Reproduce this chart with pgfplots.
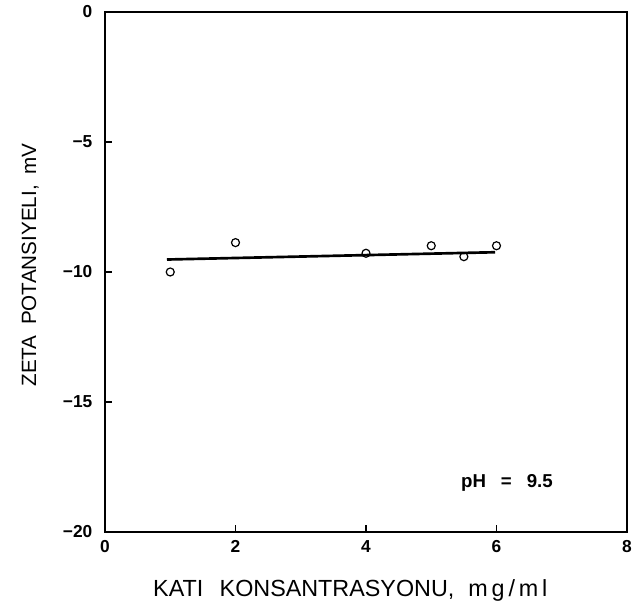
\documentclass[border=0pt]{standalone}
\usepackage{pgfplots}
\pgfplotsset{compat=1.18}
\usepackage{fontspec}
\setmainfont{Liberation Sans}
\begin{document}
\begin{tikzpicture}[x=1pt,y=1pt]
\begin{axis}[
  name=ax,
  scale only axis,
  width=391.5pt, height=390pt,
  xmin=0, xmax=8, ymin=-20, ymax=0,
  xtick={0,2,4,6,8}, ytick={-20,-15,-10,-5,0},
  yticklabels={−20,−15,−10,−5,0},
  tick align=inside,
  xtick pos=bottom, ytick pos=left,
  major tick length=5pt,
  axis line style={line width=0.9pt},
  tick style={line width=0.8pt, black},
  /pgf/number format/assume math mode=true,
  ticklabel style={font=\fontsize{13}{15}\selectfont\bfseries},
  xticklabel style={yshift=-3pt},
  yticklabel style={xshift=-6pt},
  xlabel={KATI\hspace{0.7em}KONSANTRASYONU,\hspace{0.6em}m\,g\,/\,m\,l},
  ylabel={ZETA\hspace{0.5em}POTANSIYELI,\hspace{0.5em}mV},
  xlabel style={font=\fontsize{17.5}{20}\selectfont, at={(axis description cs:0.47,-0.1115)}, anchor=center},
  ylabel style={font=\fontsize{15.5}{18}\selectfont, at={(axis description cs:-0.143,0.513)}, anchor=center},
  clip=false,
]
\addplot[only marks, mark=o, mark size=3pt, line width=0.9pt, black]
  coordinates {(1,-10.0) (2,-8.87) (4,-9.28) (5,-8.99) (5.5,-9.41) (6,-8.99)};
\addplot[black, line width=2pt] coordinates {(0.95,-9.52) (5.98,-9.24)};
\node[font=\fontsize{14}{16}\selectfont\bfseries] at (axis cs:6.16,-18.12) {pH\hspace{0.8em}=\hspace{0.8em}9.5};
\end{axis}
\pgfresetboundingbox
\path ([shift={(-78.75pt,-63pt)}]ax.south west) rectangle ([shift={(5.25pt,9pt)}]ax.north east);
\end{tikzpicture}
\end{document}
